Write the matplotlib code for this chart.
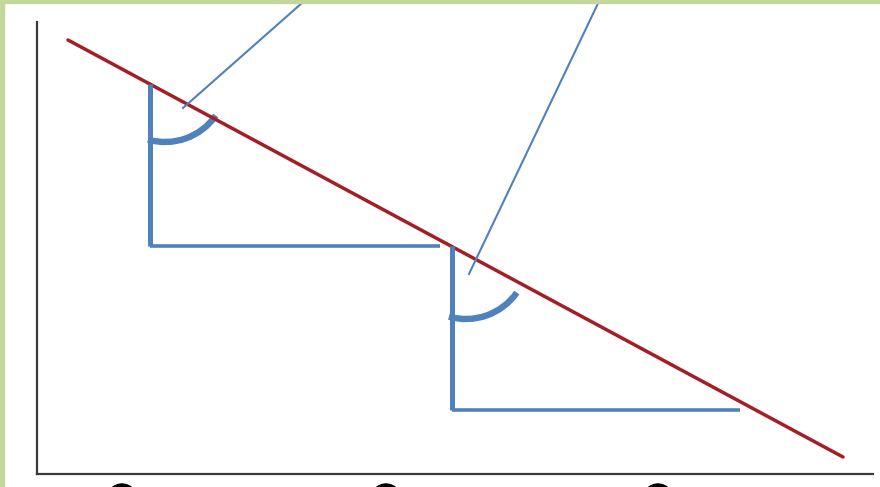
import numpy as np
import matplotlib
matplotlib.use("Agg")
import matplotlib.pyplot as plt
from matplotlib.patches import Arc, Circle, Rectangle

# diagram units: 1 unit = 10 px, origin at the axes corner
red_x = [3.1, 80.6]
red_y = [43.4, 1.7]

# two right-angle steps under the line: (x, y_top, y_bottom, x_right)
steps_x = [11.3, 41.5]
steps_top = [39.0, 22.8]
steps_bottom = [22.8, 6.4]
steps_right = [40.3, 70.3]

# angle arcs at each step
arc_cx = [12.8, 42.9]
arc_cy = [39.4, 21.7]
arc_r = 6.2

# leader lines running off the top
lead_x0 = [14.6, 43.2]
lead_y0 = [36.6, 20.0]
lead_x1 = [27.4, 56.5]
lead_y1 = [47.9, 47.9]

# cut-off dots below the axis
dot_x = [8.5, 34.9, 62.1]
dot_y = -2.5

blue = "#4F81BD"
red = "#A41E26"
green = "#C3D69B"

fig = plt.figure(figsize=(8.8, 4.87), dpi=100)
ax = fig.add_axes([37 / 880, 13 / 487, 836 / 880, 452 / 487])
ax.set_xlim(0, 83.6)
ax.set_ylim(0, 45.2)
ax.spines["top"].set_visible(False)
ax.spines["right"].set_visible(False)
for s in ["left", "bottom"]:
    ax.spines[s].set_color("#3a3a3a")
    ax.spines[s].set_linewidth(1.6)
ax.set_xticks([])
ax.set_yticks([])

ax.plot(red_x, red_y, color=red, lw=2.5, solid_capstyle="round")

for i in range(2):
    ax.plot([steps_x[i], steps_x[i]], [steps_top[i], steps_bottom[i]],
            color=blue, lw=3.6, solid_capstyle="butt")
    ax.plot([steps_x[i], steps_right[i]], [steps_bottom[i], steps_bottom[i]],
            color=blue, lw=2.6, solid_capstyle="butt")
    ax.add_patch(Arc((arc_cx[i], arc_cy[i]), 2 * arc_r, 2 * arc_r,
                     theta1=254, theta2=325, color=blue, lw=4.6))
    ax.plot([lead_x0[i], lead_x1[i]], [lead_y0[i], lead_y1[i]],
            color=blue, lw=1.5, clip_on=False)

for x in dot_x:
    ax.add_patch(Circle((x, dot_y), 1.5, facecolor="black",
                        edgecolor="black", clip_on=False))

# light green frame at top and left
fig.patches.append(Rectangle((0, 1 - 3 / 487), 1, 3 / 487,
                             transform=fig.transFigure, color=green, zorder=10))
fig.patches.append(Rectangle((0, 0), 4 / 880, 1,
                             transform=fig.transFigure, color=green, zorder=10))

fig.savefig("out.png", dpi=100)
